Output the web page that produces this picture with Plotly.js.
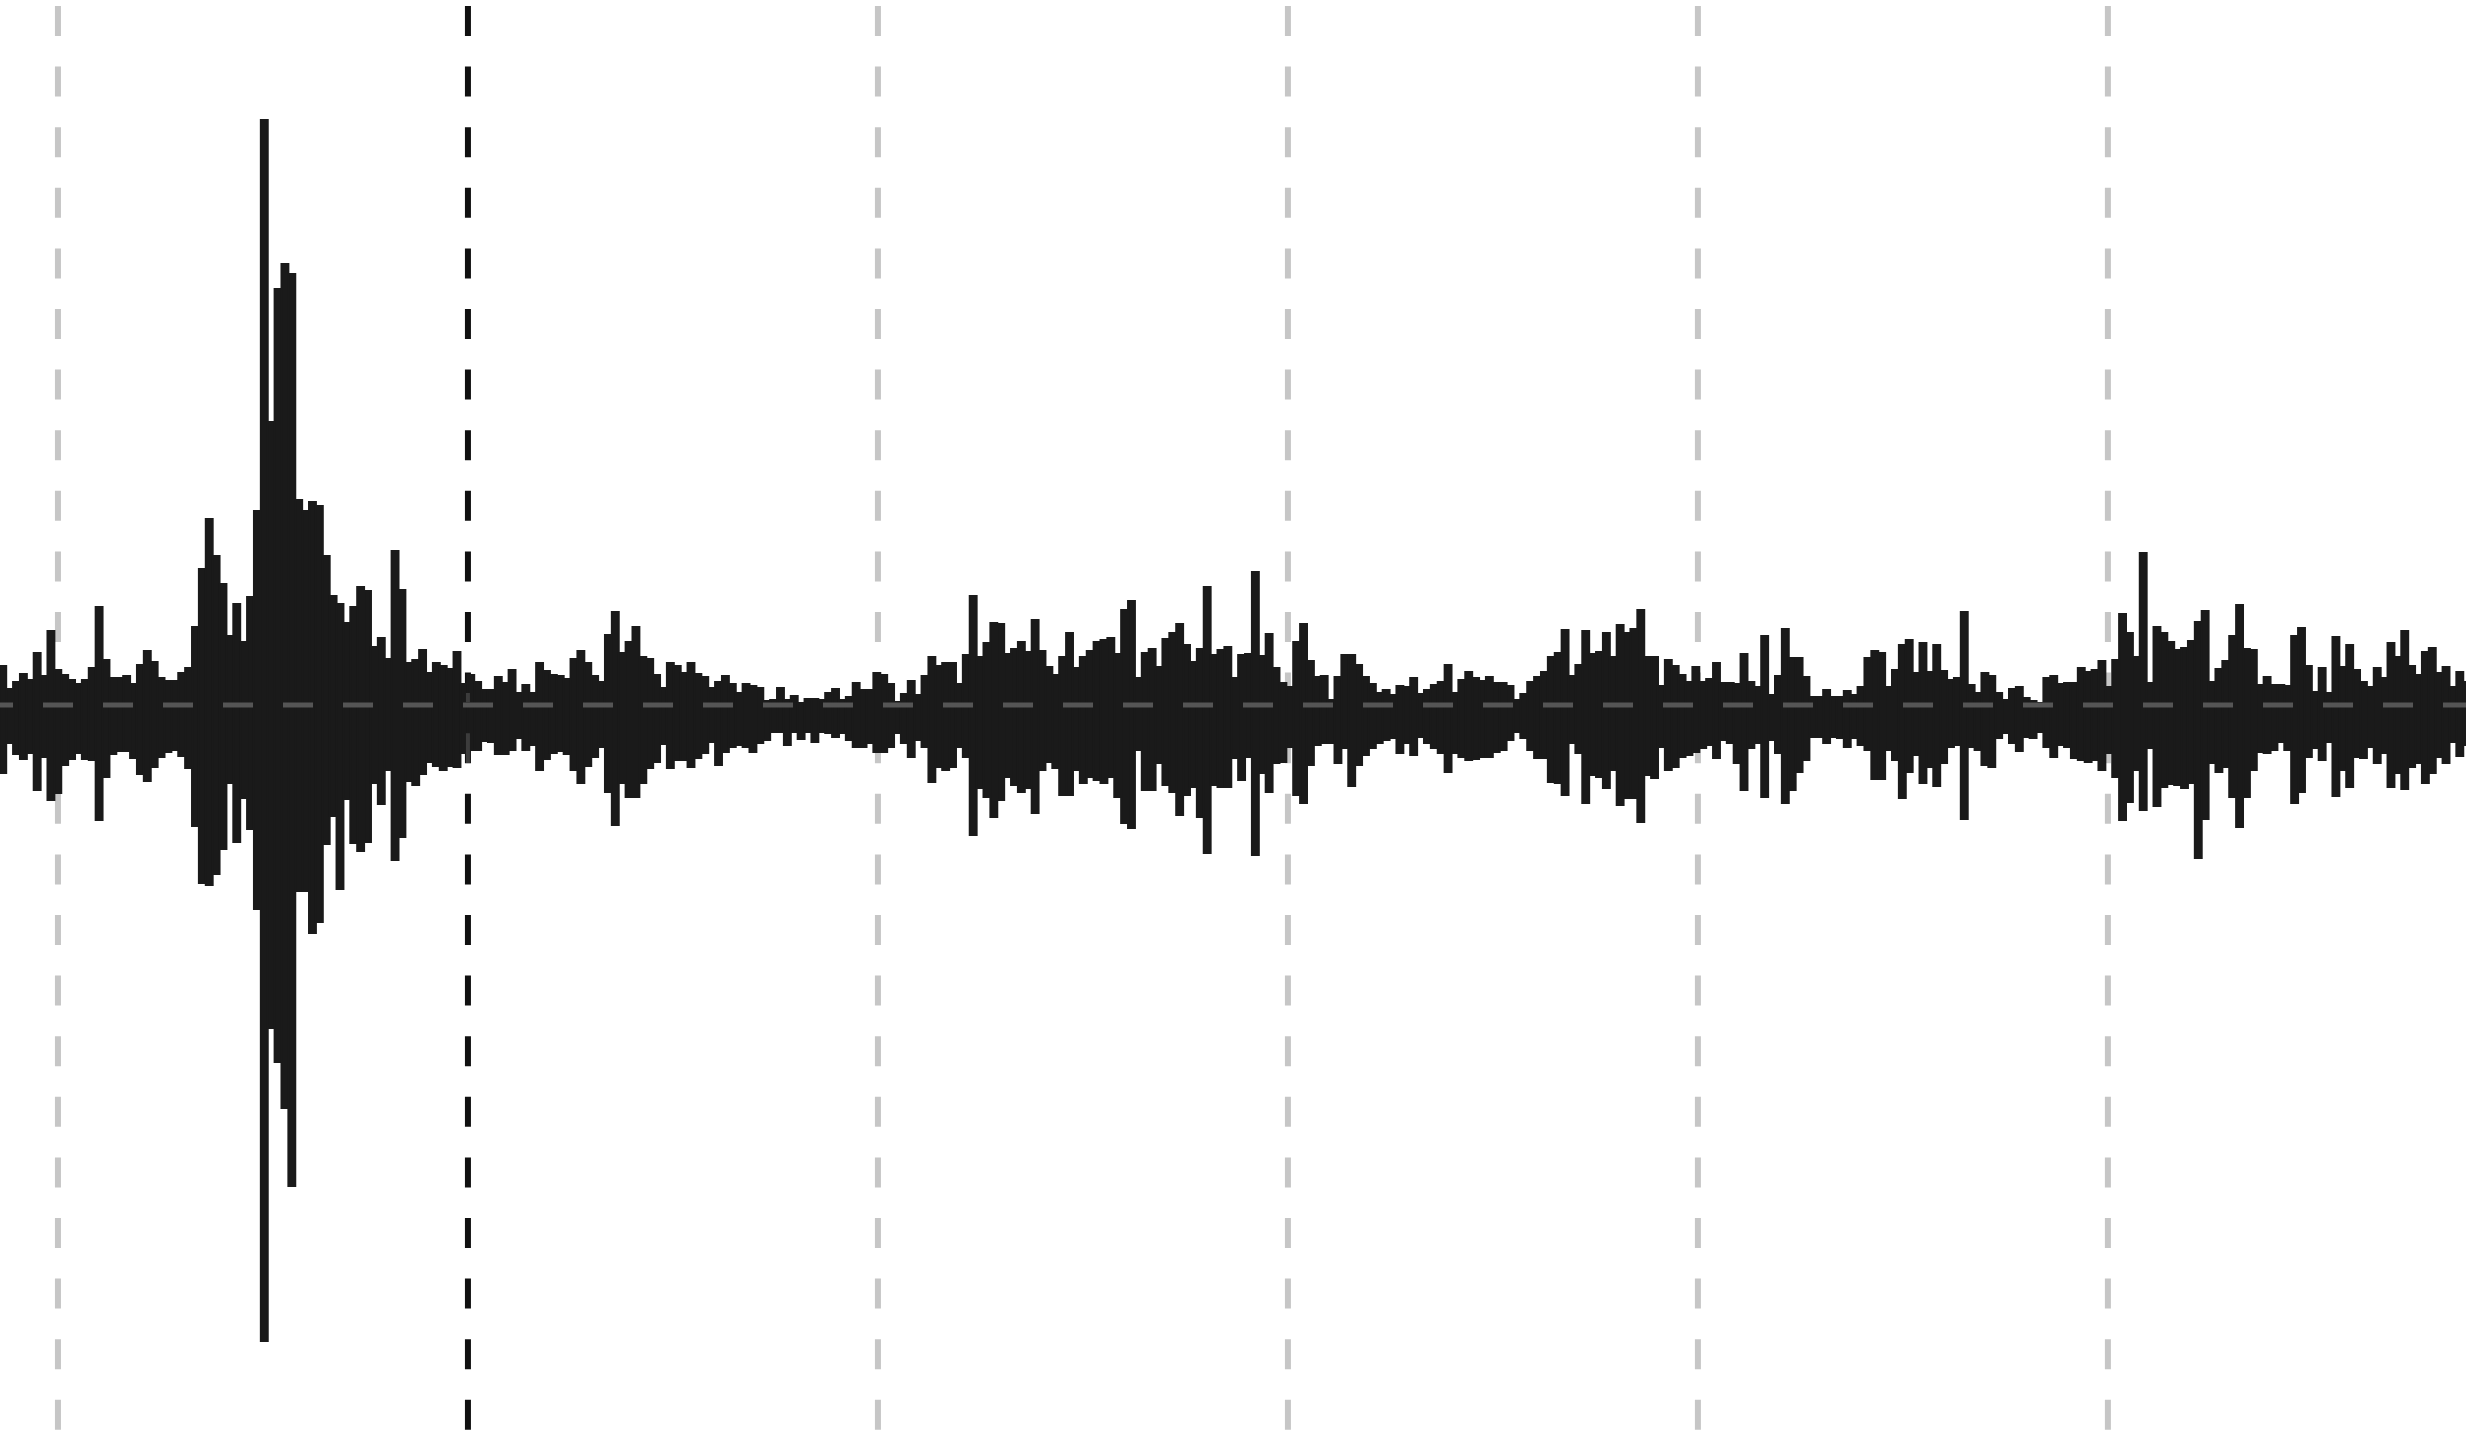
<!DOCTYPE html>
<html>
<head>
<meta charset="utf-8">
<script src="https://cdn.plot.ly/plotly-3.0.1.min.js"></script>
<style>html,body{margin:0;padding:0;background:#fff}#chart{width:2466px;height:1440px;filter:blur(0.7px)}</style>
</head>
<body>
<div id="chart"></div>
<script>
// amplitude above the zero line, per sample block
const upperA = [39,16,23,31,25,52,29,74,35,30,25,21,25,37,98,45,27,27,29,21,40,54,43,27,24,24,32,37,78,136,186,149,121,69,101,63,108,194,585,283,416,441,431,205,194,203,199,149,109,101,82,98,118,114,58,67,46,154,115,42,45,55,32,42,39,36,53,21,30,23,15,15,28,22,35,12,20,12,42,34,30,29,26,46,54,42,29,23];
const upperB = [70,93,52,63,78,48,46,30,17,42,39,32,42,31,28,17,23,29,21,12,21,19,17,4,5,17,5,9,2,6,6,5,12,16,5,8,22,15,15,32,30,21,3,11,24,10,29,48,39,42,42,21,50,109,48,62,82,81,51,56,63,53,85,54,38,30,48,72,37,48,54,63,65,67,51,95,104,27,52,56,38,66,72,81,60,43,56,118,50];
const upperC = [55,58,27,50,51,133,49,71,37,22,18,63,81,44,28,29,5,28,50,50,40,28,21,12,15,10,19,18,27,11,15,20,23,40,12,25,33,27,24,28,22,22,19,5,11,23,28,33,48,52,75,29,40,74,51,53,72,48,80,72,76,95,48,48,19,45,39,30,23,38,23,26,42,22,22,21,51,23,18,69,10,29,76,47,47,28,8,8,15,8,8];
const upperD = [14,10,18,47,54,52,18,35,60,65,32,62,33,60,34,25,27,93,20,12,32,29,12,5,16,18,7,4,2,27,29,21,22,22,37,33,35,44,18,45,91,72,48,152,22,78,72,63,55,57,64,83,94,23,36,44,69,100,56,55,20,28,20,20,19,69,77,39,13,37,12,68,38,60,35,23,18,37,27,62,48,74,39,30,53,57,32,38,18,33,23,18];
// amplitude below the zero line, per sample block
const lowerA = [68,38,49,54,48,85,52,95,88,60,54,48,54,55,115,72,49,46,46,53,69,76,62,52,47,45,51,63,121,178,180,169,144,78,137,93,124,204,636,323,357,403,481,186,186,228,217,139,111,184,94,138,146,137,78,99,65,155,132,76,80,69,57,61,65,61,62,48,45,45,36,37,49,49,45,33,45,40,65,54,48,46,49,65,78,61,52,42];
const lowerB = [87,120,78,92,92,78,63,57,39,63,55,55,62,53,48,37,60,47,42,40,42,47,38,35,27,27,40,27,34,27,37,27,28,32,28,35,42,42,38,47,47,42,28,38,52,35,42,77,62,65,62,42,52,130,83,92,112,95,72,80,87,83,108,65,57,63,90,90,65,78,72,75,78,72,92,118,123,45,85,85,58,80,87,110,90,82,112,148,80];
const lowerC = [82,82,53,75,52,150,68,87,58,57,42,90,98,60,40,38,38,58,43,81,60,50,43,38,35,33,48,38,50,32,38,43,48,67,48,52,55,54,52,52,47,45,35,27,33,45,53,53,77,78,90,38,48,98,70,72,83,65,100,93,93,117,70,73,42,65,62,52,50,47,43,40,53,35,38,58,85,43,38,92,35,48,98,85,67,55,32,32,38,32,33];
const lowerD = [42,33,40,45,74,74,45,55,93,67,50,78,62,81,58,42,40,114,42,45,60,62,33,28,38,46,32,33,27,42,52,40,42,53,55,57,55,65,48,72,115,97,65,105,43,101,82,79,80,83,78,153,114,58,67,62,92,122,92,65,47,48,45,37,45,98,87,52,43,55,37,91,65,82,52,53,42,58,48,82,68,84,62,58,78,68,52,58,37,51,40,38];
// positions of the vertical guides on the sample axis
const guides = [8.02,67.59,127.16,186.73,246.3,305.87];
const highlightedGuide = 1;

const upper = [...upperA,...upperB,...upperC,...upperD];
const lower = [...lowerA,...lowerB,...lowerC,...lowerD];
const samples = upper.map((_,i)=>i);

const guideShapes = guides.map((g,i)=>({
  type:'line',layer:'below',xref:'x',yref:'y',x0:g,x1:g,y0:699,y1:-729,
  line:{color:i===highlightedGuide?'#101010':'#c6c6c6',width:6,dash:'30px,30.6px'}
}));
const zeroLine = {type:'line',layer:'above',xref:'x',yref:'y',x0:-2.87,x1:360,y0:0,y1:0,
  line:{color:'#555555',width:5,dash:'30px,30px'}};
const guideOverWave = {type:'line',layer:'above',xref:'x',yref:'y',
  x0:guides[highlightedGuide],x1:guides[highlightedGuide],y0:12,y1:-58,
  line:{color:'#3c3c3c',width:4,dash:'9.6px,30.6px,30px'}};

Plotly.newPlot('chart',[{
  type:'bar',x:samples,
  base:lower.map(v=>-v),
  y:upper.map((v,i)=>v+lower[i]),
  width:1,
  marker:{color:'#1a1a1a',line:{color:'#1a1a1a',width:2}},
  hoverinfo:'skip',showlegend:false
}],{
  width:2466,height:1440,
  margin:{l:0,r:0,t:6,b:6,pad:0},
  paper_bgcolor:'#fff',plot_bgcolor:'#fff',
  xaxis:{range:[-0.4,357.9],visible:false,showgrid:false,zeroline:false},
  yaxis:{range:[-729,699],visible:false,showgrid:false,zeroline:false},
  shapes:[...guideShapes,zeroLine,guideOverWave],
  showlegend:false,bargap:0
},{displayModeBar:false,staticPlot:true});
</script>
</body>
</html>
